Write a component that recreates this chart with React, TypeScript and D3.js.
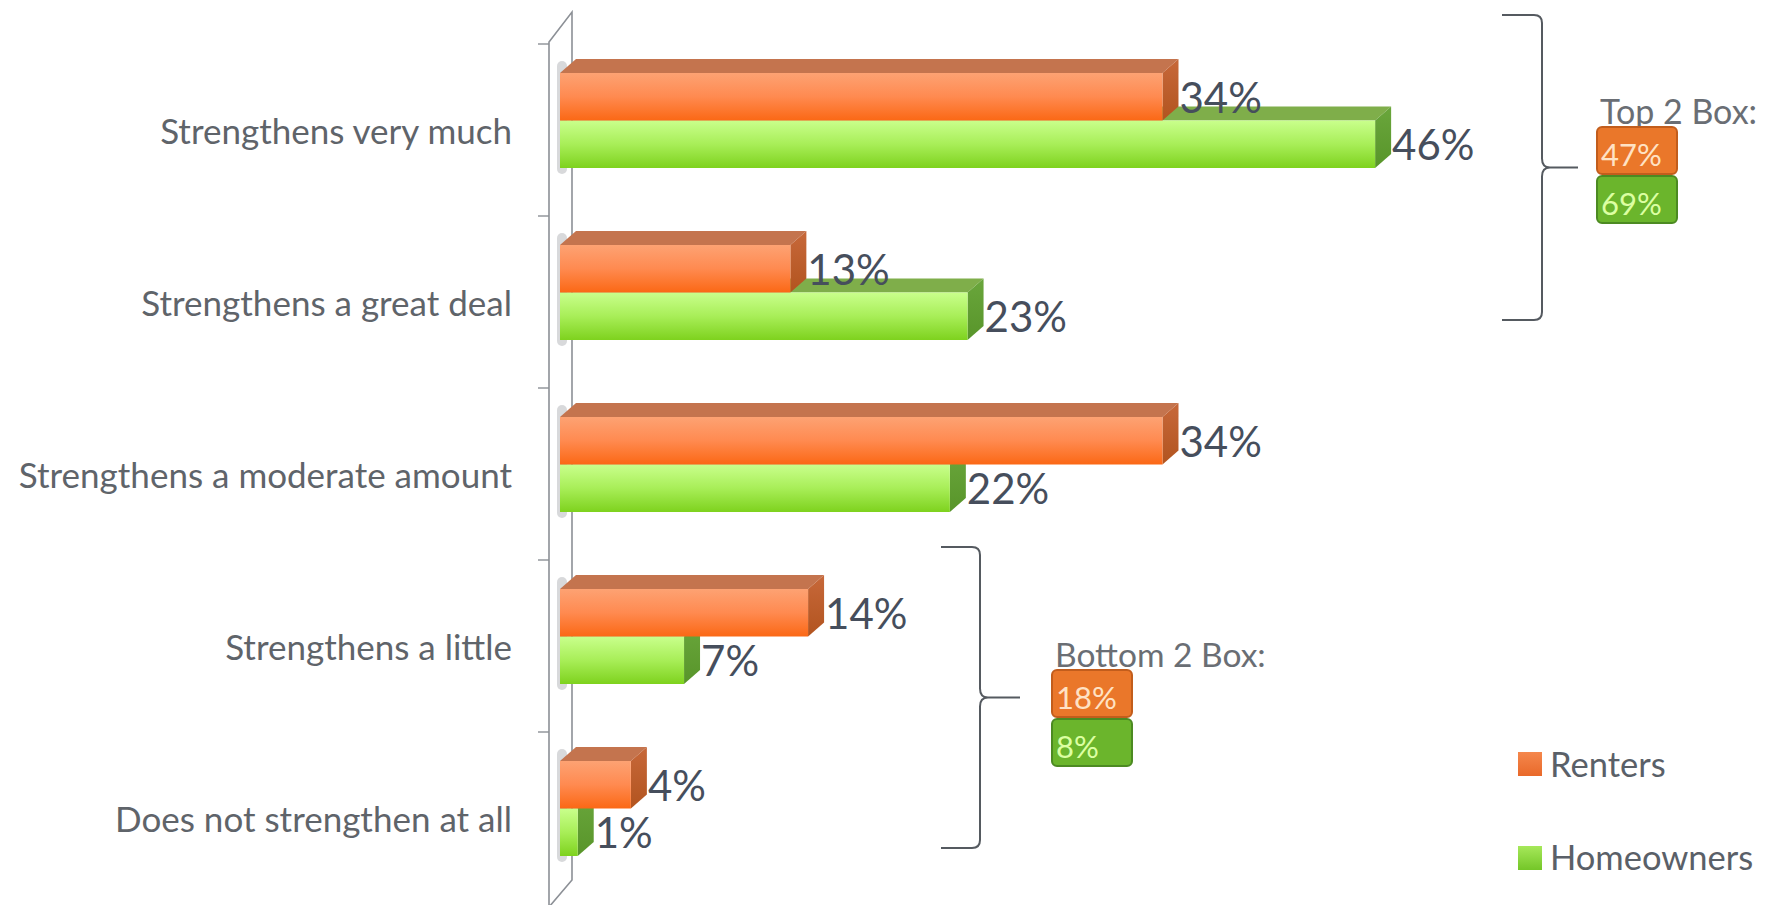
import React from "react";
import * as d3 from "d3";

const categories = [
  "Strengthens very much",
  "Strengthens a great deal",
  "Strengthens a moderate amount",
  "Strengthens a little",
  "Does not strengthen at all",
];
const seriesNames = ["Renters", "Homeowners"];
const renters = [34, 13, 34, 14, 4];
const homeowners = [46, 23, 22, 7, 1];
const top2Box = [47, 69];
const bottom2Box = [18, 8];

const W = 1777;
const H = 905;
const FONT = "Lato, 'Open Sans', sans-serif";
const DX = 16;
const DY = -14;

export default function App() {
  const x = d3.scaleLinear().domain([0, 50]).range([560, 560 + 17.72 * 50]);
  const y = d3.scaleBand<string>().domain(categories).range([44, 904]).padding(0);
  const bw = y.bandwidth();
  const inner = d3
    .scaleBand<string>()
    .domain(seriesNames)
    .range([-57, 38])
    .padding(0);
  const barH = inner.bandwidth();

  const frontGrad = { Renters: "url(#gR)", Homeowners: "url(#gH)" } as Record<string, string>;
  const topCol = { Renters: "#c4744e", Homeowners: "#7fae4a" } as Record<string, string>;
  const sideCol = { Renters: "url(#sR)", Homeowners: "url(#sH)" } as Record<string, string>;

  const bar = (name: string, v: number, cy: number, key: string) => {
    const x0 = x(0);
    const xv = x(v);
    const y0 = cy + (inner(name) as number);
    const h = barH;
    const topPts = [
      [x0, y0],
      [x0 + DX, y0 + DY],
      [xv + DX, y0 + DY],
      [xv, y0],
    ];
    const sidePts = [
      [xv, y0],
      [xv + DX, y0 + DY],
      [xv + DX, y0 + h + DY],
      [xv, y0 + h],
    ];
    return (
      <g key={key}>
        <polygon points={topPts.map((p) => p.join(",")).join(" ")} fill={topCol[name]} />
        <polygon points={sidePts.map((p) => p.join(",")).join(" ")} fill={sideCol[name]} />
        <rect x={x0} y={y0} width={xv - x0} height={h} fill={frontGrad[name]} />
        <text
          x={xv + DX + 1}
          y={y0 + h / 2}
          dominantBaseline="central"
          fontFamily={FONT}
          fontSize={42}
          fill="#464e5c"
        >
          {v}%
        </text>
      </g>
    );
  };

  const brace = (xl: number, xv: number, y1: number, y2: number, tipX: number, key: string) => {
    const ym = (y1 + y2) / 2;
    const r = 8;
    const d = `M${xl},${y1} H${xv - r} Q${xv},${y1} ${xv},${y1 + r} V${ym - 9} Q${xv},${ym} ${xv + 8},${ym} Q${xv},${ym} ${xv},${ym + 9} V${y2 - r} Q${xv},${y2} ${xv - r},${y2} H${xl} M${xv + 8},${ym} H${tipX}`;
    return <path key={key} d={d} fill="none" stroke="#555a60" strokeWidth={2} />;
  };

  const summary = (title: string, vals: number[], bx: number, ty: number, fs: number, key: string) => {
    const bwid = 80;
    const bh = 47;
    return (
      <g key={key}>
        <text x={bx + 3} y={ty} fontFamily={FONT} fontSize={fs} fill="#6a6e74">
          {title}
        </text>
        {vals.map((v, i) => {
          const by = ty + 3 + i * (bh + 2);
          const orange = i === 0;
          return (
            <g key={i}>
              <rect
                x={bx}
                y={by}
                width={bwid}
                height={bh}
                rx={5}
                fill={orange ? "#ea772a" : "#6bb52c"}
                stroke={orange ? "#c25d1c" : "#4c8a22"}
                strokeWidth={2}
              />
              <text
                x={bx + 4}
                y={by + bh - 8}
                fontFamily={FONT}
                fontSize={31}
                fill={orange ? "#ffe2c4" : "#dcffa2"}
              >
                {v}%
              </text>
            </g>
          );
        })}
      </g>
    );
  };

  const wallFrontX = 549;
  const wallBackX = 572;

  return (
    <svg
      width={W}
      height={H}
      style={{ position: "absolute", left: 0, top: 0, background: "#ffffff" }}
    >
      <defs>
        <linearGradient id="gR" x1="0" y1="0" x2="0" y2="1">
          <stop offset="0%" stopColor="#fda273" />
          <stop offset="50%" stopColor="#ff8a50" />
          <stop offset="100%" stopColor="#fb6815" />
        </linearGradient>
        <linearGradient id="gH" x1="0" y1="0" x2="0" y2="1">
          <stop offset="0%" stopColor="#c9ff8c" />
          <stop offset="50%" stopColor="#a8ee58" />
          <stop offset="100%" stopColor="#7ed21e" />
        </linearGradient>
        <linearGradient id="sR" x1="0" y1="0" x2="0" y2="1">
          <stop offset="0%" stopColor="#c7683a" />
          <stop offset="100%" stopColor="#b2541f" />
        </linearGradient>
        <linearGradient id="sH" x1="0" y1="0" x2="0" y2="1">
          <stop offset="0%" stopColor="#6aa63c" />
          <stop offset="100%" stopColor="#58952a" />
        </linearGradient>
        <linearGradient id="lR" x1="0" y1="0" x2="0" y2="1">
          <stop offset="0%" stopColor="#f5874c" />
          <stop offset="100%" stopColor="#e9692a" />
        </linearGradient>
        <linearGradient id="lH" x1="0" y1="0" x2="0" y2="1">
          <stop offset="0%" stopColor="#a6e85a" />
          <stop offset="100%" stopColor="#74c628" />
        </linearGradient>
      </defs>

      {/* wall */}
      <path
        d={`M${wallFrontX},${H + 2} V42 L${wallBackX},12 V880 L${wallFrontX},${H + 2}`}
        fill="#ffffff"
        stroke="#8c9096"
        strokeWidth={1.6}
      />
      {y.domain().map((c) => (
        <line
          key={"t" + c}
          x1={wallFrontX - 11}
          x2={wallFrontX}
          y1={y(c) as number}
          y2={y(c) as number}
          stroke="#8c9096"
          strokeWidth={1.4}
        />
      ))}

      {/* bars */}
      {categories.map((c, i) => {
        const cy = (y(c) as number) + bw / 2;
        const top = cy + (inner("Renters") as number);
        return (
          <g key={c}>
            <rect
              x={x(0) - 3}
              y={top + DY + 2}
              width={10}
              height={barH * 2 - DY + 4}
              rx={5}
              fill="#a9abb0"
              opacity={0.45}
            />
            {bar("Homeowners", homeowners[i], cy, "h" + i)}
            {bar("Renters", renters[i], cy, "r" + i)}
            <text
              x={512}
              y={cy}
              textAnchor="end"
              dominantBaseline="central"
              fontFamily={FONT}
              fontSize={35}
              fill="#5f646a"
            >
              {c}
            </text>
          </g>
        );
      })}

      {/* braces */}
      {brace(1502, 1542, 15, 320, 1578, "b1")}
      {brace(941, 980, 547, 848, 1020, "b2")}
      {summary("Top 2 Box:", top2Box, 1597, 124, 34, "s1")}
      {summary("Bottom 2 Box:", bottom2Box, 1052, 667, 33.5, "s2")}

      {/* legend */}
      {seriesNames.map((s, i) => (
        <g key={s}>
          <rect
            x={1518}
            y={752 + i * 94}
            width={24}
            height={24}
            fill={i === 0 ? "url(#lR)" : "url(#lH)"}
          />
          <text x={1550} y={777 + i * 93} fontFamily={FONT} fontSize={34.5} fill="#5a6068">
            {s}
          </text>
        </g>
      ))}
    </svg>
  );
}
